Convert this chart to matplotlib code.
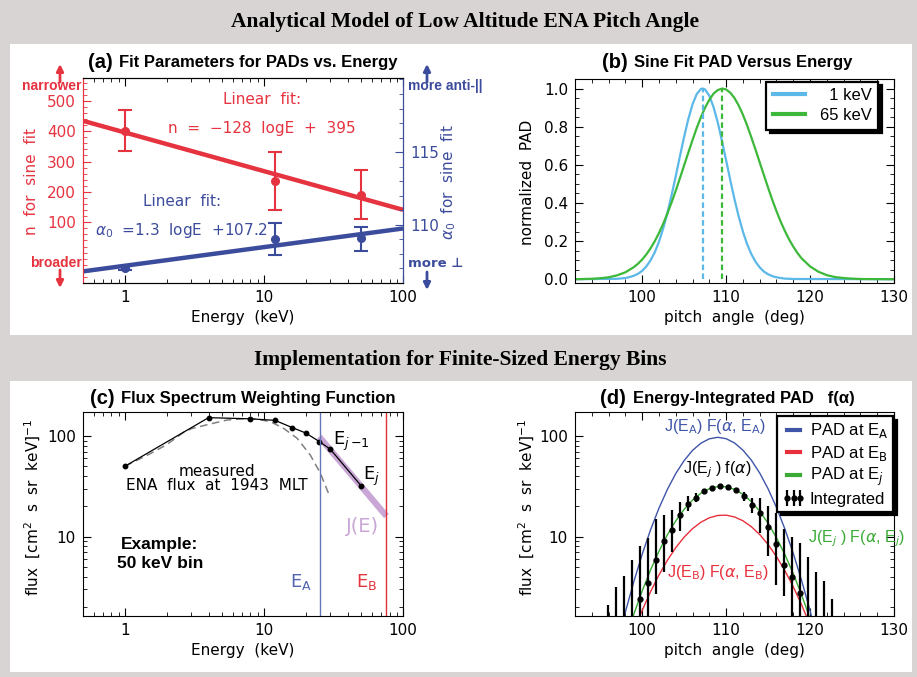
import matplotlib.pyplot as plt
from matplotlib.patches import Rectangle
from matplotlib.ticker import MultipleLocator, LogLocator, NullFormatter

W, H = 917, 677

# ---- panel (a): fit parameters vs energy
energy_fit = [1, 12, 50]
n_vals = [400, 235, 190]
n_lo = [335, 140, 110]
n_hi = [470, 330, 272]
a0_vals = [107.05, 109.0, 109.1]
a0_lo = [106.9, 107.9, 108.2]
a0_hi = [107.2, 110.1, 109.85]
fit_energy = [0.5, 100]
n_line = [434, 141]
a0_line = [106.8, 109.75]

# ---- panel (b): sine-fit PADs
pa_1kev = [92, 97, 98, 98.5, 99, 99.5, 100, 100.5, 101, 101.5, 102, 102.5, 103, 103.5, 104, 104.5,
           105, 105.5, 106, 106.5, 107, 107.2, 107.5, 108, 108.5, 109, 109.5, 110, 110.5, 111, 111.5,
           112, 112.5, 113, 113.5, 114, 114.5, 115, 115.5, 116, 116.5, 117, 118, 130]
pad_1kev = [0, 0.002, 0.006, 0.011, 0.018, 0.028, 0.044, 0.067, 0.099, 0.141, 0.196, 0.265, 0.346,
            0.439, 0.540, 0.645, 0.747, 0.840, 0.917, 0.971, 0.998, 1.0, 0.995, 0.962, 0.903, 0.823,
            0.727, 0.624, 0.519, 0.419, 0.329, 0.250, 0.184, 0.132, 0.092, 0.062, 0.040, 0.026,
            0.016, 0.010, 0.006, 0.003, 0.001, 0]
pa_65kev = [92, 93, 94, 95, 96, 97, 98, 99, 99.5, 100, 100.5, 101, 101.5, 102, 102.5, 103, 103.5,
            104, 104.5, 105, 105.5, 106, 106.5, 107, 107.5, 108, 108.5, 109, 109.56, 110, 110.5, 111,
            111.5, 112, 112.5, 113, 113.5, 114, 114.5, 115, 115.5, 116, 116.5, 117, 117.5, 118,
            118.5, 119, 120, 121, 122, 123, 124, 125, 126, 127, 130]
pad_65kev = [0.0, 0.001, 0.002, 0.005, 0.010, 0.020, 0.036, 0.063, 0.081, 0.103, 0.130, 0.162,
             0.199, 0.242, 0.290, 0.344, 0.402, 0.464, 0.530, 0.597, 0.664, 0.730, 0.793, 0.850,
             0.900, 0.941, 0.973, 0.992, 1.0, 0.995, 0.978, 0.950, 0.911, 0.863, 0.807, 0.745,
             0.680, 0.613, 0.546, 0.480, 0.416, 0.357, 0.302, 0.253, 0.209, 0.171, 0.137, 0.109,
             0.067, 0.039, 0.021, 0.011, 0.006, 0.003, 0.001, 0.0005, 0]
peak_1kev = 107.2
peak_65kev = 109.56

# ---- panel (c): flux spectrum
energy_meas = [1, 4, 8, 12, 16, 20, 25, 30, 50]
flux_meas = [50, 152, 148, 143, 121, 107, 88, 74, 32]
energy_dash = [1, 1.5, 2, 2.65, 3, 4.06, 5.43, 8, 11.1, 13.85, 17.3, 21.5, 25.4, 29.1]
flux_dash = [50, 66, 82, 109, 118, 131, 144, 150, 139, 119, 95, 65, 43, 27]
energy_je = [25, 76]
flux_je = [98, 16]
e_a = 25.2
e_b = 76

# ---- panel (d): energy-integrated PAD
pa_curve = [97, 98, 99, 100, 101, 102, 103, 104, 105, 106, 107, 108, 109, 110, 111, 112, 113,
            114, 115, 116, 117, 118, 119, 120, 121]
flux_ea = [0.835, 1.786, 3.56, 6.67, 11.69, 19.17, 29.4, 42.3, 57.0, 71.9, 84.8, 93.7, 97.0, 94.0,
           85.3, 72.4, 57.6, 42.9, 29.9, 19.5, 11.93, 6.83, 3.66, 1.84, 0.862]
flux_eb = [0.38, 0.68, 1.15, 1.85, 2.84, 4.16, 5.82, 7.77, 9.89, 12.01, 13.92, 15.40, 16.24, 16.35,
           15.70, 14.39, 12.58, 10.50, 8.35, 6.34, 4.60, 3.18, 2.10, 1.32, 0.79]
flux_ej = [0.49, 0.94, 1.69, 2.89, 4.67, 7.16, 10.41, 14.33, 18.68, 23.08, 27.02, 29.95, 31.46,
           31.30, 29.51, 26.36, 22.31, 17.88, 13.58, 9.77, 6.66, 4.30, 2.63, 1.53, 0.84]
pa_int = [95.96, 96.91, 97.86, 98.81, 99.76, 100.71, 101.66, 102.62, 103.57, 104.52, 105.47, 106.42,
          107.37, 108.32, 109.27, 110.23, 111.18, 112.13, 113.08, 114.03, 114.98, 115.93, 116.88,
          117.84, 118.79, 119.74, 120.69, 121.64, 122.59]
flux_int = [0.8, 1.0, 1.2, 1.5, 2.40, 3.49, 5.83, 9.06, 11.7, 16.4, 21.1, 24.4, 28.4, 30.2, 31.6,
            30.9, 28.8, 25.4, 20.6, 17.3, 12.6, 8.5, 5.2, 3.95, 2.74, 1.5, 1.2, 1.0, 0.8]
int_lo = [0.3, 0.4, 0.5, 0.6, 0.8, 1.0, 2.7, 4.5, 7.0, 11.5, 18.0, 22.0, 27.0, 29.0, 30.5, 29.8,
          27.5, 22.5, 17.0, 11.0, 6.5, 3.3, 2.6, 1.0, 1.0, 0.5, 0.4, 0.4, 0.3]
int_hi = [2.10, 3.14, 4.07, 5.87, 8.1, 9.8, 15.0, 16.5, 18.5, 22.0, 25.5, 27.0, 29.8, 31.4, 32.7,
          32.0, 30.0, 28.0, 24.0, 24.0, 20.0, 17.0, 12.0, 10.0, 8.6, 6.3, 4.5, 3.6, 2.4]

RED = '#e63340'
BLUE = '#3c4c9c'
GRAY = '#d7d4d3'
SANS = 'Liberation Sans'

plt.rcParams['font.family'] = ['DejaVu Sans']
plt.rcParams['mathtext.fontset'] = 'dejavusans'

fig = plt.figure(figsize=(W / 100, H / 100), dpi=100, facecolor=GRAY)


def ftext(px, py, s, **kw):
    kw.setdefault('ha', 'center')
    kw.setdefault('va', 'center')
    return fig.text(px / W, 1 - py / H, s, **kw)


def add_axes(x0, y0, x1, y1):
    return fig.add_axes([x0 / W, 1 - y1 / H, (x1 - x0) / W, (y1 - y0) / H])


def style(ax, right=True):
    ax.tick_params(which='both', direction='in', top=True, right=right, labelsize=11)
    ax.tick_params(which='major', length=6, width=0.8, pad=5)
    ax.tick_params(which='minor', length=3, width=0.6)


def arrow(px, y_from, y_to, color):
    fig.add_artist(plt.Annotation('', xy=(px / W, 1 - y_to / H), xytext=(px / W, 1 - y_from / H),
                                  xycoords='figure fraction',
                                  arrowprops=dict(arrowstyle='-|>', color=color, lw=2,
                                                  mutation_scale=10, shrinkA=0, shrinkB=0)))


# white panels and section headers
fig.add_artist(Rectangle((10 / W, 1 - 335 / H), 902 / W, 291 / H, transform=fig.transFigure,
                         facecolor='white', edgecolor='none', zorder=0))
fig.add_artist(Rectangle((10 / W, 1 - 672 / H), 902 / W, 291 / H, transform=fig.transFigure,
                         facecolor='white', edgecolor='none', zorder=0))
ftext(465, 22, 'Analytical Model of Low Altitude ENA Pitch Angle', family='Liberation Serif',
      weight='bold', size=15.5)
ftext(460, 360, 'Implementation for Finite-Sized Energy Bins', family='Liberation Serif',
      weight='bold', size=15.5)

# ================= (a)
ax_a = add_axes(83, 78, 403, 283)
style(ax_a, right=False)
ax_a.set_xscale('log')
ax_a.set_xlim(0.5, 100)
ax_a.set_ylim(-100, 575)
ax_a.set_xticks([1, 10, 100])
ax_a.set_xticklabels(['1', '10', '100'])
ax_a.set_yticks([100, 200, 300, 400, 500])
ax_a.yaxis.set_minor_locator(MultipleLocator(20))
ax_a.tick_params(axis='y', colors=RED, which='both')
ax_a.spines['left'].set_color(RED)
ax_a.plot(fit_energy, n_line, color=RED, lw=3.2, solid_capstyle='butt')
n_err = [[v - l for v, l in zip(n_vals, n_lo)], [h - v for v, h in zip(n_vals, n_hi)]]
ax_a.errorbar(energy_fit, n_vals, yerr=n_err, fmt='o', color=RED, ms=5.5, elinewidth=1.5,
              capsize=5, capthick=1.5)
ax_a.set_xlabel('Energy  (keV)', fontsize=11, labelpad=4)

ax_a2 = ax_a.twinx()
ax_a2.set_ylim(106, 120.1)
ax_a2.set_yticks([110, 115])
ax_a2.yaxis.set_minor_locator(MultipleLocator(1))
ax_a2.tick_params(which='both', direction='in', labelsize=11, colors=BLUE)
ax_a2.tick_params(which='major', length=6, pad=5)
ax_a2.tick_params(which='minor', length=3)
ax_a2.spines['right'].set_color(BLUE)
ax_a2.spines['left'].set_color(RED)
ax_a2.plot(fit_energy, a0_line, color=BLUE, lw=3.2, solid_capstyle='butt')
a0_err = [[v - l for v, l in zip(a0_vals, a0_lo)], [h - v for v, h in zip(a0_vals, a0_hi)]]
ax_a2.errorbar(energy_fit, a0_vals, yerr=a0_err, fmt='o', color=BLUE, ms=5.5, elinewidth=1.5,
               capsize=5, capthick=1.5)

ftext(88, 62, '(a)', family=SANS, weight='bold', size=14.5, ha='left')
ftext(119, 62, 'Fit Parameters for PADs vs. Energy', family=SANS, weight='bold', size=12,
      ha='left')
ftext(262, 99, 'Linear  fit:', color=RED, size=11)
ftext(262, 128, 'n  =  \u2212128  logE  +  395', color=RED, size=11)
ftext(182, 202, 'Linear  fit:', color=BLUE, size=11)
ftext(181, 231, r'$\alpha_0$  =1.3  logE  +107.2', color=BLUE, size=11)
ftext(32, 182, 'n  for  sine  fit', color=RED, size=11, rotation=90)
ftext(449, 182, r'$\alpha_0$  for  sine  fit', color=BLUE, size=11, rotation=90)
ftext(52, 86, 'narrower', color=RED, family=SANS, weight='bold', size=10)
ftext(56, 263, 'broader', color=RED, family=SANS, weight='bold', size=10)
ftext(408, 86, 'more anti-||', color=BLUE, family=SANS, weight='bold', size=10, ha='left')
ftext(408, 263, 'more \u22a5', color=BLUE, family=['DejaVu Sans'], weight='bold', size=9.5,
      ha='left')
arrow(60, 82, 64, RED)
arrow(60, 270, 288, RED)
arrow(427, 82, 64, BLUE)
arrow(427, 272, 290, BLUE)

# ================= (b)
ax_b = add_axes(575, 79, 894, 283)
style(ax_b)
ax_b.set_xlim(92, 130)
ax_b.set_ylim(-0.02, 1.05)
ax_b.set_xticks([100, 110, 120, 130])
ax_b.xaxis.set_minor_locator(MultipleLocator(2))
ax_b.set_yticks([0, 0.2, 0.4, 0.6, 0.8, 1.0])
ax_b.set_yticklabels(['0.0', '0.2', '0.4', '0.6', '0.8', '1.0'])
ax_b.yaxis.set_minor_locator(MultipleLocator(0.05))
ax_b.plot(pa_1kev, pad_1kev, color='#5bb8e8', lw=1.6, label='  1 keV')
ax_b.plot(pa_65kev, pad_65kev, color='#3db83a', lw=1.6, label='65 keV')
ax_b.plot([peak_1kev, peak_1kev], [0, 1], color='#5bb8e8', lw=1.6, ls=(0, (2.5, 1.5)))
ax_b.plot([peak_65kev, peak_65kev], [0, 1], color='#3db83a', lw=1.6, ls=(0, (2.5, 1.5)))
ax_b.set_xlabel('pitch  angle  (deg)', fontsize=11, labelpad=4)
leg = ax_b.legend(loc='upper right', bbox_to_anchor=(0.951, 0.987), borderaxespad=0,
                  prop={'family': SANS, 'size': 12}, fancybox=False, edgecolor='black',
                  framealpha=1, handlelength=1.9, handletextpad=0.9, labelspacing=0.3,
                  shadow={'color': 'black', 'alpha': 1, 'ox': 2.5, 'oy': -2.5})
leg.get_frame().set_linewidth(1.6)
for line in leg.get_lines():
    line.set_linewidth(3)
ftext(602, 62, '(b)', family=SANS, weight='bold', size=14.5, ha='left')
ftext(634, 62, 'Sine Fit PAD Versus Energy', family=SANS, weight='bold', size=12, ha='left')
ftext(528, 182, 'normalized  PAD', size=11, rotation=90)

# ================= (c)
ax_c = add_axes(83, 412, 403, 616)
style(ax_c)
ax_c.set_xscale('log')
ax_c.set_yscale('log')
ax_c.set_xlim(0.5, 100)
ax_c.set_ylim(1.63, 173)
ax_c.set_xticks([1, 10, 100])
ax_c.set_xticklabels(['1', '10', '100'])
ax_c.set_yticks([10, 100])
ax_c.set_yticklabels(['10', '100'])
ax_c.yaxis.set_minor_locator(LogLocator(subs=range(2, 10)))
ax_c.yaxis.set_minor_formatter(NullFormatter())
ax_c.xaxis.set_minor_formatter(NullFormatter())
ax_c.plot(energy_je, flux_je, color='#c9a6d6', lw=4.5, solid_capstyle='butt')
ax_c.plot(energy_dash, flux_dash, color='#808080', lw=1.1, ls=(0, (5, 3)))
ax_c.plot(energy_meas, flux_meas, color='black', lw=0.9, marker='o', ms=3.2)
ax_c.axvline(e_a, color='#6577bb', lw=1)
ax_c.axvline(e_b, color='#e0303c', lw=1)
ax_c.set_xlabel('Energy  (keV)', fontsize=11, labelpad=4)
ftext(90, 398, '(c)', family=SANS, weight='bold', size=14.5, ha='left')
ftext(121, 398, 'Flux Spectrum Weighting Function', family=SANS, weight='bold', size=12,
      ha='left')
ftext(33, 507, r'flux  [cm$^2$  s  sr  keV]$^{-1}$', size=11, rotation=90)
ftext(217, 472, 'measured', size=11)
ftext(217, 486, 'ENA  flux  at  1943  MLT', size=11)
ftext(159, 545, 'Example:', family=SANS, weight='bold', size=12.5)
ftext(160, 564, '50 keV bin', family=SANS, weight='bold', size=12.5)
ftext(333, 441, r'E$_{j\,\mathrm{-1}}$', size=13, ha='left')
ftext(363, 476, r'E$_j$', size=13, ha='left')
ftext(346, 527, 'J(E)', color='#c9a6d6', size=14, ha='left')
ftext(290, 582, r'E$_\mathrm{A}$', color='#5064b0', size=13, ha='left')
ftext(356, 582, r'E$_\mathrm{B}$', color=RED, size=13, ha='left')

# ================= (d)
ax_d = add_axes(575, 412, 894, 616)
style(ax_d)
ax_d.set_yscale('log')
ax_d.set_xlim(92, 130)
ax_d.set_ylim(1.63, 173)
ax_d.set_xticks([100, 110, 120, 130])
ax_d.xaxis.set_minor_locator(MultipleLocator(2))
ax_d.set_yticks([10, 100])
ax_d.set_yticklabels(['10', '100'])
ax_d.yaxis.set_minor_locator(LogLocator(subs=range(2, 10)))
ax_d.yaxis.set_minor_formatter(NullFormatter())
h_a, = ax_d.plot(pa_curve, flux_ea, color='#3f55a8', lw=1)
h_b, = ax_d.plot(pa_curve, flux_eb, color='#e8303c', lw=1)
h_j, = ax_d.plot(pa_curve, flux_ej, color='#3aaa35', lw=1)
int_err = [[v - l for v, l in zip(flux_int, int_lo)], [h - v for v, h in zip(flux_int, int_hi)]]
h_int = ax_d.errorbar(pa_int, flux_int, yerr=int_err, fmt='o', color='black', ms=3.5,
                      elinewidth=1.6, capsize=0)
ax_d.set_xlabel('pitch  angle  (deg)', fontsize=11, labelpad=4)
leg_d = ax_d.legend([h_a, h_b, h_j, h_int],
                    [r'PAD at E$_\mathrm{A}$', r'PAD at E$_\mathrm{B}$', r'PAD at E$_j$', 'Integrated'],
                    loc='upper right', bbox_to_anchor=(0.997, 0.978), borderaxespad=0,
                    prop={'family': SANS, 'size': 12}, fancybox=False, edgecolor='black',
                    framealpha=1, handlelength=1.4, handletextpad=0.25, labelspacing=0.2,
                    borderpad=0.3, numpoints=3,
                    shadow={'color': 'black', 'alpha': 1, 'ox': 2.5, 'oy': -2.5})
leg_d.get_frame().set_linewidth(1.6)
for line in leg_d.get_lines()[:3]:
    line.set_linewidth(3)
ftext(600, 398, '(d)', family=SANS, weight='bold', size=14.5, ha='left')
ftext(633, 398, 'Energy-Integrated PAD   f(\u03b1)', family=SANS, weight='bold', size=12,
      ha='left')
ftext(527, 507, r'flux  [cm$^2$  s  sr  keV]$^{-1}$', size=11, rotation=90)
ftext(715, 427, r'J(E$_\mathrm{A}$) F($\alpha$, E$_\mathrm{A}$)', color='#3f55a8', family=SANS,
      size=11.5)
ftext(717, 470, r'J(E$_j$ ) f($\alpha$)', color='black', family=SANS, size=11.5)
ftext(718, 573, r'J(E$_\mathrm{B}$) F($\alpha$, E$_\mathrm{B}$)', color='#e8303c', family=SANS,
      size=11.5)
ftext(808, 539, r'J(E$_j$ ) F($\alpha$, E$_j$)', color='#3aaa35', family=SANS, size=11.5,
      ha='left')

fig.savefig('out.png', dpi=100, facecolor=GRAY)
